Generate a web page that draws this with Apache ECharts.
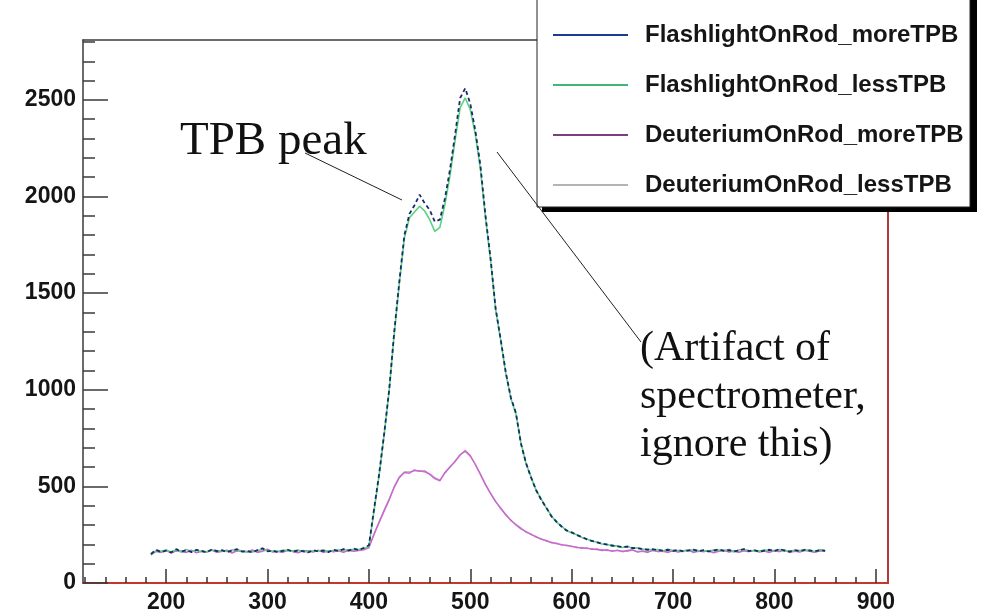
<!DOCTYPE html>
<html>
<head>
<meta charset="utf-8">
<script src="https://cdn.jsdelivr.net/npm/echarts@6/dist/echarts.min.js"></script>
<style>
  html, body { margin: 0; padding: 0; background: #fff; }
  #chart { width: 986px; height: 614px; }
</style>
</head>
<body>
<div id="chart"></div>
<script>
// Wavelength grid (nm) shared by all four spectra
const wavelength = [
  185,190,195,200,205,210,215,220,225,230,235,240,245,250,255,260,265,270,275,280,
  285,290,295,300,305,310,315,320,325,330,335,340,345,350,355,360,365,370,375,380,
  385,390,395,400,405,410,415,420,425,430,435,440,445,450,455,460,465,470,475,480,
  485,490,495,500,505,510,515,520,525,530,535,540,545,550,555,560,565,570,575,580,
  585,590,595,600,605,610,615,620,625,630,635,640,645,650,655,660,665,670,675,680,
  685,690,695,700,705,710,715,720,725,730,735,740,745,750,755,760,765,770,775,780,
  785,790,795,800,805,810,815,820,825,830,835,840,845,850
];

// Counts for each configuration
const flashlightMoreTPB = [
  150,172,160,168,158,175,163,170,160,172,166,158,174,165,170,160,168,175,162,166,
  158,170,180,164,168,160,166,172,162,168,165,158,170,163,168,160,172,166,175,168,
  178,170,182,
  195,380,560,770,1000,1300,1560,1800,1910,1955,
  2010,1965,1930,1870,1880,1990,2140,2320,2510,2560,
  2480,2340,2160,1900,1680,1420,1260,1090,960,880,
  720,620,545,480,430,390,345,318,292,272,
  262,248,238,226,218,210,204,198,194,190,
  186,188,181,180,176,172,175,170,168,172,
  166,171,164,168,173,165,170,163,168,174,
  166,170,164,168,176,165,170,162,168,172,
  165,176,168,162,170,165,172,168,164,170,
  166
];

const flashlightLessTPB = [
  146,168,164,171,161,172,160,174,163,169,162,161,171,168,166,163,171,172,165,162,
  161,167,176,167,165,163,169,169,165,171,162,161,167,166,171,163,169,170,172,171,
  175,173,178,
  190,370,555,765,995,1290,1550,1785,1890,1920,
  1950,1925,1880,1820,1840,1960,2110,2290,2460,2510,
  2450,2320,2140,1890,1670,1415,1255,1085,955,875,
  725,618,548,478,434,388,348,315,295,270,
  260,250,236,228,216,212,202,200,192,192,
  184,190,179,182,174,175,172,173,166,175,
  168,168,166,171,170,168,167,166,171,170,
  168,173,162,171,173,168,167,165,171,169,
  168,173,165,166,168,168,170,171,162,173,
  168
];

const deuteriumMoreTPB = [
  145,165,158,170,155,168,162,158,170,156,166,160,172,158,165,170,155,168,164,160,
  172,158,166,175,160,165,158,170,162,156,168,164,160,170,158,166,162,168,158,170,
  164,168,172,
  182,250,312,372,430,495,545,572,568,585,
  578,580,562,540,528,572,602,628,662,686,
  660,612,560,508,462,420,388,352,326,300,
  280,266,250,240,226,220,208,206,196,196,
  188,186,180,182,174,176,168,172,164,170,
  162,168,172,160,166,158,170,162,166,158,
  168,160,165,172,158,166,162,168,156,164,
  170,160,166,158,168,162,170,160,165,158,
  168,162,172,158,166,160,170,164,158,168,
  165
];

const deuteriumLessTPB = [
  150,162,161,166,158,165,166,160,167,159,163,163,169,161,162,167,158,165,167,163,
  169,161,163,171,163,162,161,167,165,159,165,167,163,167,161,163,165,165,161,167,
  167,171,175,
  185,255,318,378,436,500,550,575,575,580,
  582,574,565,545,532,568,598,632,665,680,
  655,615,565,512,465,424,384,356,322,304,
  284,262,254,236,230,216,212,202,200,192,
  192,182,184,178,178,172,172,168,168,166,
  166,164,170,163,163,161,167,165,163,161,
  165,163,168,169,161,163,165,165,159,167,
  167,163,163,161,165,165,167,163,168,161,
  165,165,169,161,163,163,167,167,161,165,
  168
];

const seriesNames = [
  'FlashlightOnRod_moreTPB',
  'FlashlightOnRod_lessTPB',
  'DeuteriumOnRod_moreTPB',
  'DeuteriumOnRod_lessTPB'
];

// Axis tick labels
const xTickLabels = [200, 300, 400, 500, 600, 700, 800, 900];
const yTickLabels = [0, 500, 1000, 1500, 2000, 2500];

// Minor tick positions (every 20 nm on x, every 100 counts on y)
const xMinorTicks = [];
for (let v = 120; v <= 900; v += 20) if (v % 100 !== 0) xMinorTicks.push(v);
const yMinorTicks = [];
for (let v = 100; v <= 2800; v += 100) if (v % 500 !== 0) yMinorTicks.push(v);

const pairs = arr => wavelength.map((w, i) => [w, arr[i]]);

const X_MIN = 118, X_MAX = 912, Y_MIN = 0, Y_MAX = 2810;
const labelFont = {
  fontFamily: 'Liberation Sans, Arial, Helvetica, sans-serif',
  fontWeight: 'bold',
  fontSize: 23,
  color: '#151515'
};
const plain = v => String(v);

const chart = echarts.init(document.getElementById('chart'), null, { renderer: 'canvas' });

chart.setOption({
  backgroundColor: '#ffffff',
  animation: false,
  grid: { left: 83, right: 98, top: 40, bottom: 29, containLabel: false, show: false },
  legend: {
    orient: 'vertical',
    left: 537,
    top: -7,
    z: 10,
    padding: [30, 10, 12, 16],
    itemWidth: 75,
    itemHeight: 2,
    itemGap: 26,
    icon: 'rect',
    backgroundColor: 'transparent',
    borderWidth: 0,
    selectedMode: false,
    textStyle: Object.assign({}, labelFont, { fontSize: 24, padding: [0, 0, 0, 12] }),
    data: [
      { name: seriesNames[0], itemStyle: { color: '#1f3b8f' } },
      { name: seriesNames[1], itemStyle: { color: '#3fb67a' } },
      { name: seriesNames[2], itemStyle: { color: '#7d3e80' } },
      { name: seriesNames[3], itemStyle: { color: '#b4b4b4' } }
    ]
  },
  xAxis: [
    {
      type: 'value', min: X_MIN, max: X_MAX, position: 'bottom',
      axisLine: { show: true, onZero: false, lineStyle: { color: '#c0392b', width: 2 } },
      axisTick: { show: true, inside: true, length: 14, customValues: xTickLabels,
                  lineStyle: { color: '#333', width: 1.5 } },
      axisLabel: Object.assign({ show: true, customValues: xTickLabels, margin: 8, formatter: plain }, labelFont),
      splitLine: { show: false }
    },
    {
      type: 'value', min: X_MIN, max: X_MAX, position: 'bottom',
      axisLine: { show: false, onZero: false },
      axisTick: { show: true, inside: true, length: 6, customValues: xMinorTicks,
                  lineStyle: { color: '#333', width: 1.5 } },
      axisLabel: { show: false },
      splitLine: { show: false }
    },
    {
      type: 'value', min: X_MIN, max: X_MAX, position: 'top',
      axisLine: { show: true, onZero: false, lineStyle: { color: '#3a3a3a', width: 1.5 } },
      axisTick: { show: false },
      axisLabel: { show: false },
      splitLine: { show: false }
    }
  ],
  yAxis: [
    {
      type: 'value', min: Y_MIN, max: Y_MAX, position: 'left',
      axisLine: { show: true, onZero: false, lineStyle: { color: '#3a3a3a', width: 1.5 } },
      axisTick: { show: true, inside: true, length: 25, customValues: yTickLabels,
                  lineStyle: { color: '#3a3a3a', width: 1.5 } },
      axisLabel: Object.assign({ show: true, customValues: yTickLabels, margin: 7, formatter: plain }, labelFont),
      splitLine: { show: false }
    },
    {
      type: 'value', min: Y_MIN, max: Y_MAX, position: 'left',
      axisLine: { show: false, onZero: false },
      axisTick: { show: true, inside: true, length: 12, customValues: yMinorTicks,
                  lineStyle: { color: '#3a3a3a', width: 1.5 } },
      axisLabel: { show: false },
      splitLine: { show: false }
    },
    {
      type: 'value', min: Y_MIN, max: Y_MAX, position: 'right',
      axisLine: { show: true, onZero: false, lineStyle: { color: '#b03a3a', width: 2 } },
      axisTick: { show: false },
      axisLabel: { show: false },
      splitLine: { show: false }
    }
  ],
  series: [
    {
      name: seriesNames[0], type: 'line', data: pairs(flashlightMoreTPB),
      showSymbol: false, z: 5, color: '#1b2a6e',
      lineStyle: { color: '#1b2a6e', width: 1.8, type: [4, 3] }
    },
    {
      name: seriesNames[1], type: 'line', data: pairs(flashlightLessTPB),
      showSymbol: false, z: 4, color: '#5ad37c',
      lineStyle: { color: '#5ad37c', width: 1.6 }
    },
    {
      name: seriesNames[2], type: 'line', data: pairs(deuteriumMoreTPB),
      showSymbol: false, z: 3, color: '#d063d0',
      lineStyle: { color: '#d063d0', width: 1.4 }
    },
    {
      name: seriesNames[3], type: 'line', data: pairs(deuteriumLessTPB),
      showSymbol: false, z: 2, color: '#a8a8bc',
      lineStyle: { color: '#a8a8bc', width: 1.3 }
    }
  ],
  graphic: [
    // legend frame: solid drop shadow, then the white box with a thin border
    {
      type: 'rect', z: 8,
      shape: { x: 542, y: -6, width: 435, height: 218 },
      style: { fill: '#000' }
    },
    {
      type: 'rect', z: 9,
      shape: { x: 537, y: -11, width: 433, height: 218 },
      style: { fill: '#fff', stroke: '#222', lineWidth: 1 }
    },
    {
      type: 'text', left: 180, top: 118, z: 20,
      style: { text: 'TPB peak', font: '47px "Liberation Serif", "Times New Roman", serif', fill: '#111' }
    },
    {
      type: 'line', z: 20,
      shape: { x1: 305, y1: 153, x2: 402, y2: 200 },
      style: { stroke: '#222', lineWidth: 1 }
    },
    {
      type: 'text', left: 640, top: 325, z: 20,
      style: {
        text: '(Artifact of\nspectrometer,\nignore this)',
        font: '42px "Liberation Serif", "Times New Roman", serif',
        lineHeight: 48, fill: '#111'
      }
    },
    {
      type: 'line', z: 20,
      shape: { x1: 497, y1: 152, x2: 641, y2: 342 },
      style: { stroke: '#222', lineWidth: 1 }
    }
  ]
});
</script>
</body>
</html>
